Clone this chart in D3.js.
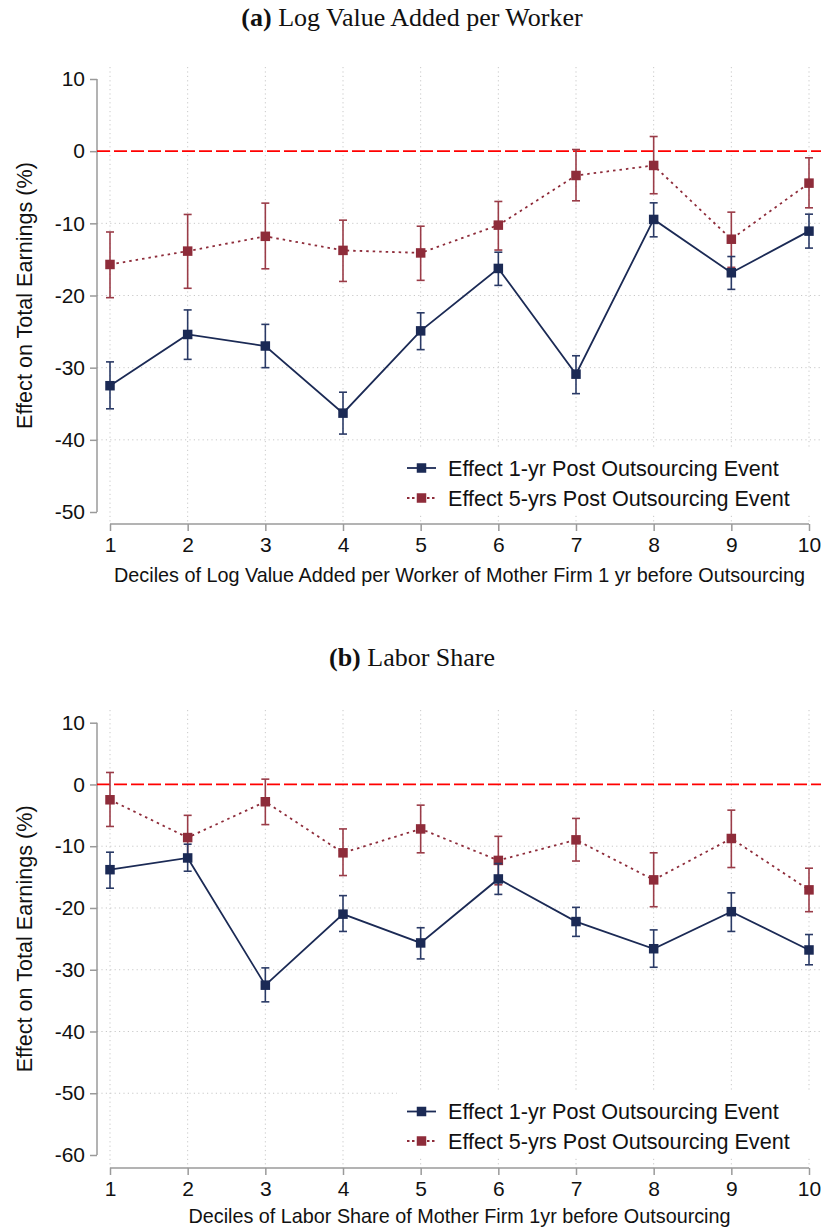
<!DOCTYPE html>
<html>
<head>
<meta charset="utf-8">
<script src="https://cdn.jsdelivr.net/npm/d3@7"></script>
<style>
  html, body { margin: 0; padding: 0; background: #fff; }
  svg { display: block; }
</style>
</head>
<body>
<svg id="chart" width="825" height="1230"></svg>
<script>
// Deciles on the x axis
const deciles = [1, 2, 3, 4, 5, 6, 7, 8, 9, 10];

// Panel (a): log value added per worker
const vaOneYr      = [-32.5, -25.4, -27.0, -36.3, -24.9, -16.25, -30.9, -9.46, -16.85, -11.08];
const vaOneYrLo    = [-35.7, -28.85, -30.0, -39.2, -27.5, -18.6, -33.6, -11.87, -19.15, -13.43];
const vaOneYrHi    = [-29.2, -22.0, -24.0, -33.4, -22.4, -14.0, -28.35, -7.16, -14.6, -8.73];
const vaFiveYr     = [-15.7, -13.85, -11.8, -13.75, -14.1, -10.25, -3.37, -1.98, -12.2, -4.43];
const vaFiveYrLo   = [-20.3, -19.0, -16.3, -18.05, -17.9, -13.7, -6.88, -5.9, -16.1, -7.85];
const vaFiveYrHi   = [-11.2, -8.77, -7.2, -9.56, -10.4, -6.97, 0.23, 2.03, -8.45, -0.92];

// Panel (b): labor share
const lsOneYr      = [-13.8, -11.9, -32.5, -21.0, -25.66, -15.3, -22.2, -26.6, -20.6, -26.8];
const lsOneYrLo    = [-16.8, -14.05, -35.2, -23.8, -28.25, -17.8, -24.6, -29.6, -23.8, -29.2];
const lsOneYrHi    = [-10.97, -9.67, -29.7, -18.0, -23.2, -12.8, -19.9, -23.55, -17.55, -24.3];
const lsFiveYr     = [-2.48, -8.6, -2.8, -11.07, -7.2, -12.3, -8.97, -15.45, -8.75, -17.07];
const lsFiveYrLo   = [-6.8, -12.0, -6.5, -14.75, -11.07, -16.25, -12.4, -19.8, -13.45, -20.6];
const lsFiveYrHi   = [1.94, -5.0, 0.86, -7.2, -3.35, -8.4, -5.5, -11.07, -4.16, -13.56];

// Tick labels
const yTicksA = [10, 0, -10, -20, -30, -40, -50];
const yTicksB = [10, 0, -10, -20, -30, -40, -50, -60];

const legendLabels = ["Effect 1-yr Post Outsourcing Event", "Effect 5-yrs Post Outsourcing Event"];
const yTitle = "Effect on Total Earnings (%)";

const NAVY = "#1b2a55";
const NAVY_CI = "#2a3a66";
const MAROON = "#8e2c3a";
const MAROON_CI = "#9a3c48";
const AXIS = "#9a9a9a";
const GRID = "#c8c8c8";
const SANS = "'Liberation Sans', Arial, sans-serif";
const SERIF = "'Liberation Serif', 'Times New Roman', serif";

const svg = d3.select("#chart");

function drawPanel(cfg) {
  const g = svg.append("g");
  const x = d3.scaleLinear().domain([1, 10]).range([110, 809]);
  const y = d3.scaleLinear().domain(cfg.yDomain).range(cfg.yRange);
  const plotLeft = 97, plotRight = 821;

  // title
  const t = g.append("text")
    .attr("x", 412).attr("y", cfg.titleY)
    .attr("text-anchor", "middle")
    .style("font-family", SERIF).style("font-size", "26px").attr("fill", "#111");
  t.append("tspan").style("font-weight", "bold").text(cfg.tag);
  t.append("tspan").text(" " + cfg.title);

  // grid: vertical
  g.append("g").selectAll("line").data(deciles).join("line")
    .attr("x1", d => x(d)).attr("x2", d => x(d))
    .attr("y1", cfg.gridTop).attr("y2", cfg.xAxisY)
    .attr("stroke", GRID).attr("stroke-width", 1).attr("stroke-dasharray", "1.2,3.2");

  // grid: horizontal (skip extremes)
  const inner = cfg.yTicks.filter(v => v !== cfg.yDomain[0] && v !== cfg.yDomain[1] && v !== 0);
  g.append("g").selectAll("line").data(inner).join("line")
    .attr("x1", plotLeft).attr("x2", plotRight)
    .attr("y1", d => y(d)).attr("y2", d => y(d))
    .attr("stroke", GRID).attr("stroke-width", 1).attr("stroke-dasharray", "1.2,3.2");

  // y axis
  const yAxis = d3.axisLeft(y).tickValues(cfg.yTicks).tickSize(7).tickPadding(5).tickFormat(d3.format("d"));
  const ya = g.append("g").attr("transform", `translate(${plotLeft},0)`).call(yAxis);
  ya.select(".domain").attr("stroke", AXIS).attr("stroke-width", 1.5)
    .attr("d", `M0,${y(cfg.yDomain[1])}V${y(cfg.yDomain[0])}`);
  ya.selectAll(".tick line").attr("stroke", AXIS).attr("stroke-width", 1.5);
  ya.selectAll(".tick text").style("font-family", SANS).style("font-size", "21px").attr("fill", "#111")
    .text(d => d < 0 ? "-" + Math.abs(d) : d);

  // x axis
  const xAxis = d3.axisBottom(x).tickValues(deciles).tickSize(7).tickPadding(6).tickFormat(d3.format("d"));
  const xa = g.append("g").attr("transform", `translate(0,${cfg.xAxisY})`).call(xAxis);
  xa.select(".domain").attr("stroke", AXIS).attr("stroke-width", 1.5).attr("d", `M${x(1)},0H${x(10)}`);
  xa.selectAll(".tick line").attr("stroke", AXIS).attr("stroke-width", 1.5);
  xa.selectAll(".tick text").style("font-family", SANS).style("font-size", "21px").attr("fill", "#111");

  // axis titles
  g.append("text").attr("x", (x(1) + x(10)) / 2).attr("y", cfg.xTitleY)
    .attr("text-anchor", "middle").style("font-family", SANS).style("font-size", "19.8px").attr("fill", "#111")
    .text(cfg.xTitle);
  const yMid = (cfg.yRange[0] + cfg.yRange[1]) / 2;
  g.append("text").attr("transform", `translate(32,${yMid}) rotate(-90)`)
    .attr("text-anchor", "middle").style("font-family", SANS).style("font-size", "21.6px").attr("fill", "#111")
    .text(yTitle);

  // zero reference line
  g.append("line").attr("x1", plotLeft).attr("x2", plotRight)
    .attr("y1", y(0)).attr("y2", y(0))
    .attr("stroke", "#ff0000").attr("stroke-width", 1.8).attr("stroke-dasharray", "13,4");

  const series = [
    { est: cfg.five, lo: cfg.fiveLo, hi: cfg.fiveHi, color: MAROON, ci: MAROON_CI, dash: "2.5,4" },
    { est: cfg.one, lo: cfg.oneLo, hi: cfg.oneHi, color: NAVY, ci: NAVY_CI, dash: null }
  ];

  const line = d3.line().x((d, i) => x(deciles[i])).y(d => y(d));

  series.forEach(s => {
    const sg = g.append("g");
    // confidence intervals
    const ci = sg.append("g").selectAll("g").data(deciles).join("g");
    ci.append("line").attr("x1", d => x(d)).attr("x2", d => x(d))
      .attr("y1", (d, i) => y(s.hi[i])).attr("y2", (d, i) => y(s.lo[i]))
      .attr("stroke", s.ci).attr("stroke-width", 1.6);
    ci.append("line").attr("x1", d => x(d) - 4).attr("x2", d => x(d) + 4)
      .attr("y1", (d, i) => y(s.hi[i])).attr("y2", (d, i) => y(s.hi[i]))
      .attr("stroke", s.ci).attr("stroke-width", 1.6);
    ci.append("line").attr("x1", d => x(d) - 4).attr("x2", d => x(d) + 4)
      .attr("y1", (d, i) => y(s.lo[i])).attr("y2", (d, i) => y(s.lo[i]))
      .attr("stroke", s.ci).attr("stroke-width", 1.6);
    // connecting line
    sg.append("path").datum(s.est).attr("d", line).attr("fill", "none")
      .attr("stroke", s.color).attr("stroke-width", 1.8)
      .attr("stroke-dasharray", s.dash);
    // markers
    sg.append("g").selectAll("rect").data(s.est).join("rect")
      .attr("x", (d, i) => x(deciles[i]) - 4.75).attr("y", d => y(d) - 4.75)
      .attr("width", 9.5).attr("height", 9.5).attr("fill", s.color);
  });

  // legend
  const lg = g.append("g");
  lg.append("rect").attr("x", 397).attr("y", cfg.legendY - 21).attr("width", 424).attr("height", 66).attr("fill", "#fff");
  const entries = [
    { label: legendLabels[0], color: NAVY, dash: null },
    { label: legendLabels[1], color: MAROON, dash: "2.5,2.5" }
  ];
  entries.forEach((e, i) => {
    const yy = cfg.legendY + i * cfg.legendGap;
    lg.append("line").attr("x1", 407).attr("x2", 436).attr("y1", yy).attr("y2", yy)
      .attr("stroke", e.color).attr("stroke-width", 1.8).attr("stroke-dasharray", e.dash);
    lg.append("rect").attr("x", 421.5 - 4.75).attr("y", yy - 4.75).attr("width", 9.5).attr("height", 9.5).attr("fill", e.color);
    lg.append("text").attr("x", 448).attr("y", yy).attr("dy", "0.35em")
      .style("font-family", SANS).style("font-size", "21.6px").attr("fill", "#111").text(e.label);
  });
}

drawPanel({
  tag: "(a)", title: "Log Value Added per Worker", titleY: 26,
  yDomain: [-50, 10], yRange: [512, 79], yTicks: yTicksA,
  xAxisY: 524, gridTop: 67, xTitleY: 582,
  xTitle: "Deciles of Log Value Added per Worker of Mother Firm 1 yr before Outsourcing",
  one: vaOneYr, oneLo: vaOneYrLo, oneHi: vaOneYrHi,
  five: vaFiveYr, fiveLo: vaFiveYrLo, fiveHi: vaFiveYrHi,
  legendY: 468, legendGap: 30
});

drawPanel({
  tag: "(b)", title: "Labor Share", titleY: 666,
  yDomain: [-60, 10], yRange: [1155, 722.7], yTicks: yTicksB,
  xAxisY: 1168, gridTop: 710, xTitleY: 1223,
  xTitle: "Deciles of Labor Share of Mother Firm 1yr before Outsourcing",
  one: lsOneYr, oneLo: lsOneYrLo, oneHi: lsOneYrHi,
  five: lsFiveYr, fiveLo: lsFiveYrLo, fiveHi: lsFiveYrHi,
  legendY: 1111.5, legendGap: 29.5
});
</script>
</body>
</html>
